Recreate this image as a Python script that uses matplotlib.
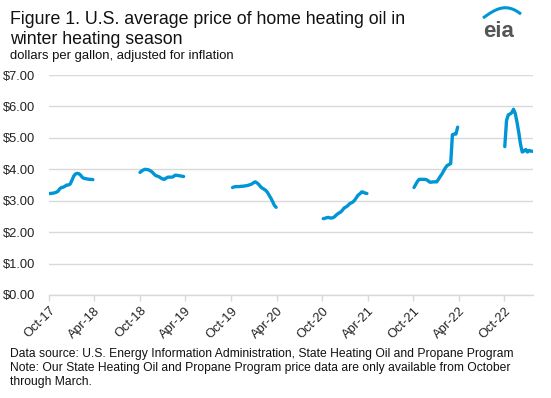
import matplotlib
matplotlib.use("Agg")
import matplotlib.pyplot as plt
import numpy as np
import pandas as pd

plt.rcParams['font.family'] = ['Liberation Sans', 'DejaVu Sans']

# Season start dates (first Monday of October) and weekly prices
season_starts = ["2017-10-02", "2018-10-01", "2019-10-07", "2020-10-05", "2021-10-04", "2022-10-03"]

s2017 = [3.23, 3.23, 3.24, 3.25, 3.27, 3.30, 3.38, 3.42, 3.43, 3.46, 3.50, 3.50, 3.53,
         3.65, 3.78, 3.85, 3.87, 3.86, 3.81, 3.74, 3.71, 3.70, 3.69, 3.68, 3.68, 3.67]
s2018 = [3.90, 3.95, 3.98, 4.00, 3.99, 3.98, 3.95, 3.91, 3.85, 3.80, 3.78, 3.76, 3.72,
         3.69, 3.68, 3.72, 3.75, 3.75, 3.75, 3.76, 3.81, 3.81, 3.80, 3.79, 3.78, 3.77]
s2019 = [3.42, 3.44, 3.45, 3.45, 3.45, 3.46, 3.46, 3.47, 3.48, 3.49, 3.51, 3.53, 3.57,
         3.60, 3.57, 3.52, 3.45, 3.40, 3.37, 3.33, 3.27, 3.17, 3.08, 2.97, 2.85, 2.79]
s2020 = [2.43, 2.44, 2.46, 2.47, 2.45, 2.45, 2.47, 2.52, 2.57, 2.61, 2.64, 2.70, 2.77,
         2.80, 2.84, 2.90, 2.93, 2.96, 3.02, 3.10, 3.18, 3.22, 3.28, 3.27, 3.24, 3.23]
s2021 = [3.42, 3.52, 3.62, 3.68, 3.68, 3.68, 3.68, 3.67, 3.64, 3.59, 3.59, 3.60, 3.60,
         3.60, 3.68, 3.77, 3.85, 3.95, 4.05, 4.12, 4.15, 4.18, 5.10, 5.12, 5.12, 5.34]
s2022 = [4.72, 5.55, 5.73, 5.76, 5.80, 5.91, 5.78, 5.50, 5.18, 4.80, 4.55, 4.58, 4.63,
         4.55, 4.60, 4.58, 4.57]
seasons = [s2017, s2018, s2019, s2020, s2021, s2022]

tick_dates = ["2017-10-01", "2018-04-01", "2018-10-01", "2019-04-01", "2019-10-01", "2020-04-01",
              "2020-10-01", "2021-04-01", "2021-10-01", "2022-04-01", "2022-10-01"]
tick_labels = ["Oct-17", "Apr-18", "Oct-18", "Apr-19", "Oct-19", "Apr-20",
               "Oct-20", "Apr-21", "Oct-21", "Apr-22", "Oct-22"]
y_ticks = [0, 1, 2, 3, 4, 5, 6, 7]

blue = "#0096D6"

fig = plt.figure(figsize=(5.51, 3.98), dpi=100)
ax = fig.add_axes([49/551, 1-295/398, (532.7-49)/551, (295-75)/398])

last_date = None
for start, vals in zip(season_starts, seasons):
    dates = pd.date_range(start, periods=len(vals), freq="7D")
    ax.plot(dates, vals, color=blue, lw=2.4, solid_capstyle="round", solid_joinstyle="round")
    last_date = dates[-1]

ax.set_xlim(pd.Timestamp("2017-10-01"), last_date)
ax.set_ylim(0, 7)
ax.set_yticks(y_ticks)
ax.set_yticklabels([f"${v:.2f}" for v in y_ticks], fontsize=9.3, color="#222222")
ax.set_xticks(pd.to_datetime(tick_dates))
ax.set_xticklabels(tick_labels, rotation=45, ha="right", rotation_mode="anchor", fontsize=9.3, color="#222222")

ax.grid(axis="y", color="#D9D9D9", lw=1)
ax.set_axisbelow(True)
for s in ["top", "right", "left"]:
    ax.spines[s].set_visible(False)
ax.spines["bottom"].set_color("#D9D9D9")
ax.spines["bottom"].set_linewidth(1)
ax.tick_params(axis="y", length=0, pad=10)
ax.tick_params(axis="x", length=4, color="#D9D9D9", width=1, pad=3)

# Titles
fig.text(10/551, 1-24/398, "Figure 1. U.S. average price of home heating oil in", fontsize=12.8, color="#111111", va="baseline")
fig.text(10/551, 1-44/398, "winter heating season", fontsize=12.8, color="#111111", va="baseline")
fig.text(10/551, 1-59/398, "dollars per gallon, adjusted for inflation", fontsize=9.4, color="#111111", va="baseline")

# Footer
fig.text(10/551, 1-357/398, "Data source: U.S. Energy Information Administration, State Heating Oil and Propane Program",
         fontsize=8.7, color="#111111", va="baseline")
fig.text(10/551, 1-371/398, "Note: Our State Heating Oil and Propane Program price data are only available from October",
         fontsize=8.7, color="#111111", va="baseline")
fig.text(10/551, 1-385/398, "through March.", fontsize=8.7, color="#111111", va="baseline")

# EIA logo
fig.text(499/551, 1-37/398, "eia", fontsize=16, color="#555555", ha="center", va="baseline", fontweight="bold")
lax = fig.add_axes([0, 0, 1, 1], facecolor="none")
lax.set_xlim(0, 551); lax.set_ylim(398, 0); lax.axis("off")
t = np.linspace(0, 1, 50)
xs = 483 + 38 * t
ys = 18 - 14 * np.sin(np.pi * t * 0.75) + 6 * t
lax.plot(xs, ys, color=blue, lw=2.2, solid_capstyle="butt")

fig.savefig("out.png", dpi=100)
